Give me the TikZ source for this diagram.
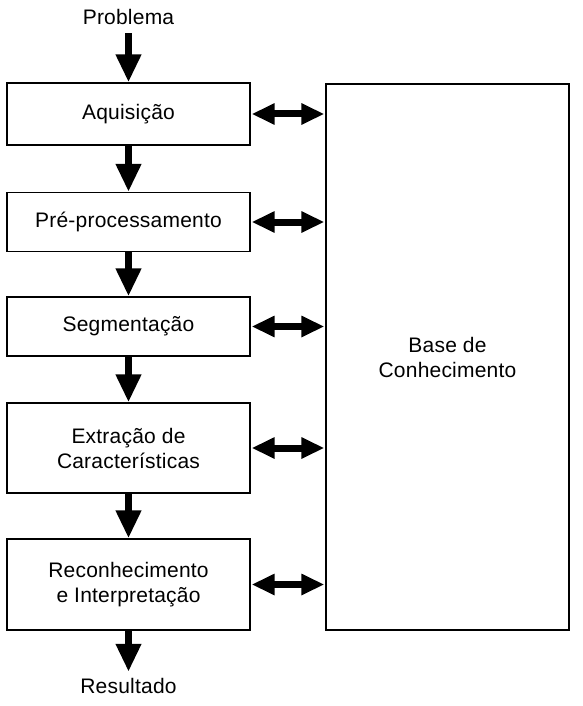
\documentclass[tikz,border=0pt]{standalone}
\usepackage{fontspec}
\setmainfont{Liberation Sans}[LetterSpace=1]
\usepackage{tikz}
\usetikzlibrary{positioning, arrows.meta}

\begin{document}
\begin{tikzpicture}[x=1pt, y=-1pt, every node/.style={font=\fontsize{21}{25}\selectfont},
  block/.style={draw, line width=1.3pt, minimum width=243pt, align=center, inner sep=0pt},
  flow/.style={-{Triangle[width=24pt, length=28pt]}, line width=7.5pt},
  link/.style={{Triangle[width=20pt, length=23pt]}-{Triangle[width=20pt, length=23pt]}, line width=7pt, shorten >=1pt, shorten <=1pt}]
\useasboundingbox (0,0) rectangle (582,706);
\node (prob) at (128.5,17) {Problema};
\node[block, minimum height=62pt] (aquis) at (128.5,114) {Aquisição};
\node[block, minimum height=59pt] (preproc) at (128.5,222) {Pré-processamento};
\node[block, minimum height=59pt] (segm) at (128.5,326.5) {Segmentação};
\node[block, minimum height=90pt] (extr) at (128.5,448) {Extração de\\Características};
\node[block, minimum height=91pt] (recon) at (128.5,584.5) {Reconhecimento\\e Interpretação};
\node (result) at (128.5,686) {Resultado};
\node[block, minimum height=546pt] (base) at (447.5,357) {Base de\\Conhecimento};
\draw[flow, shorten <=5pt] (prob) -- (aquis);
\draw[flow] (aquis) -- (preproc);
\draw[flow] (preproc) -- (segm);
\draw[flow] (segm) -- (extr);
\draw[flow] (extr) -- (recon);
\draw[flow, shorten >=3pt] (recon) -- (result);
\draw[link] (aquis.east) -- (aquis.east -| base.west);
\draw[link] (preproc.east) -- (preproc.east -| base.west);
\draw[link] (segm.east) -- (segm.east -| base.west);
\draw[link] (extr.east) -- (extr.east -| base.west);
\draw[link] (recon.east) -- (recon.east -| base.west);
\end{tikzpicture}
\end{document}
